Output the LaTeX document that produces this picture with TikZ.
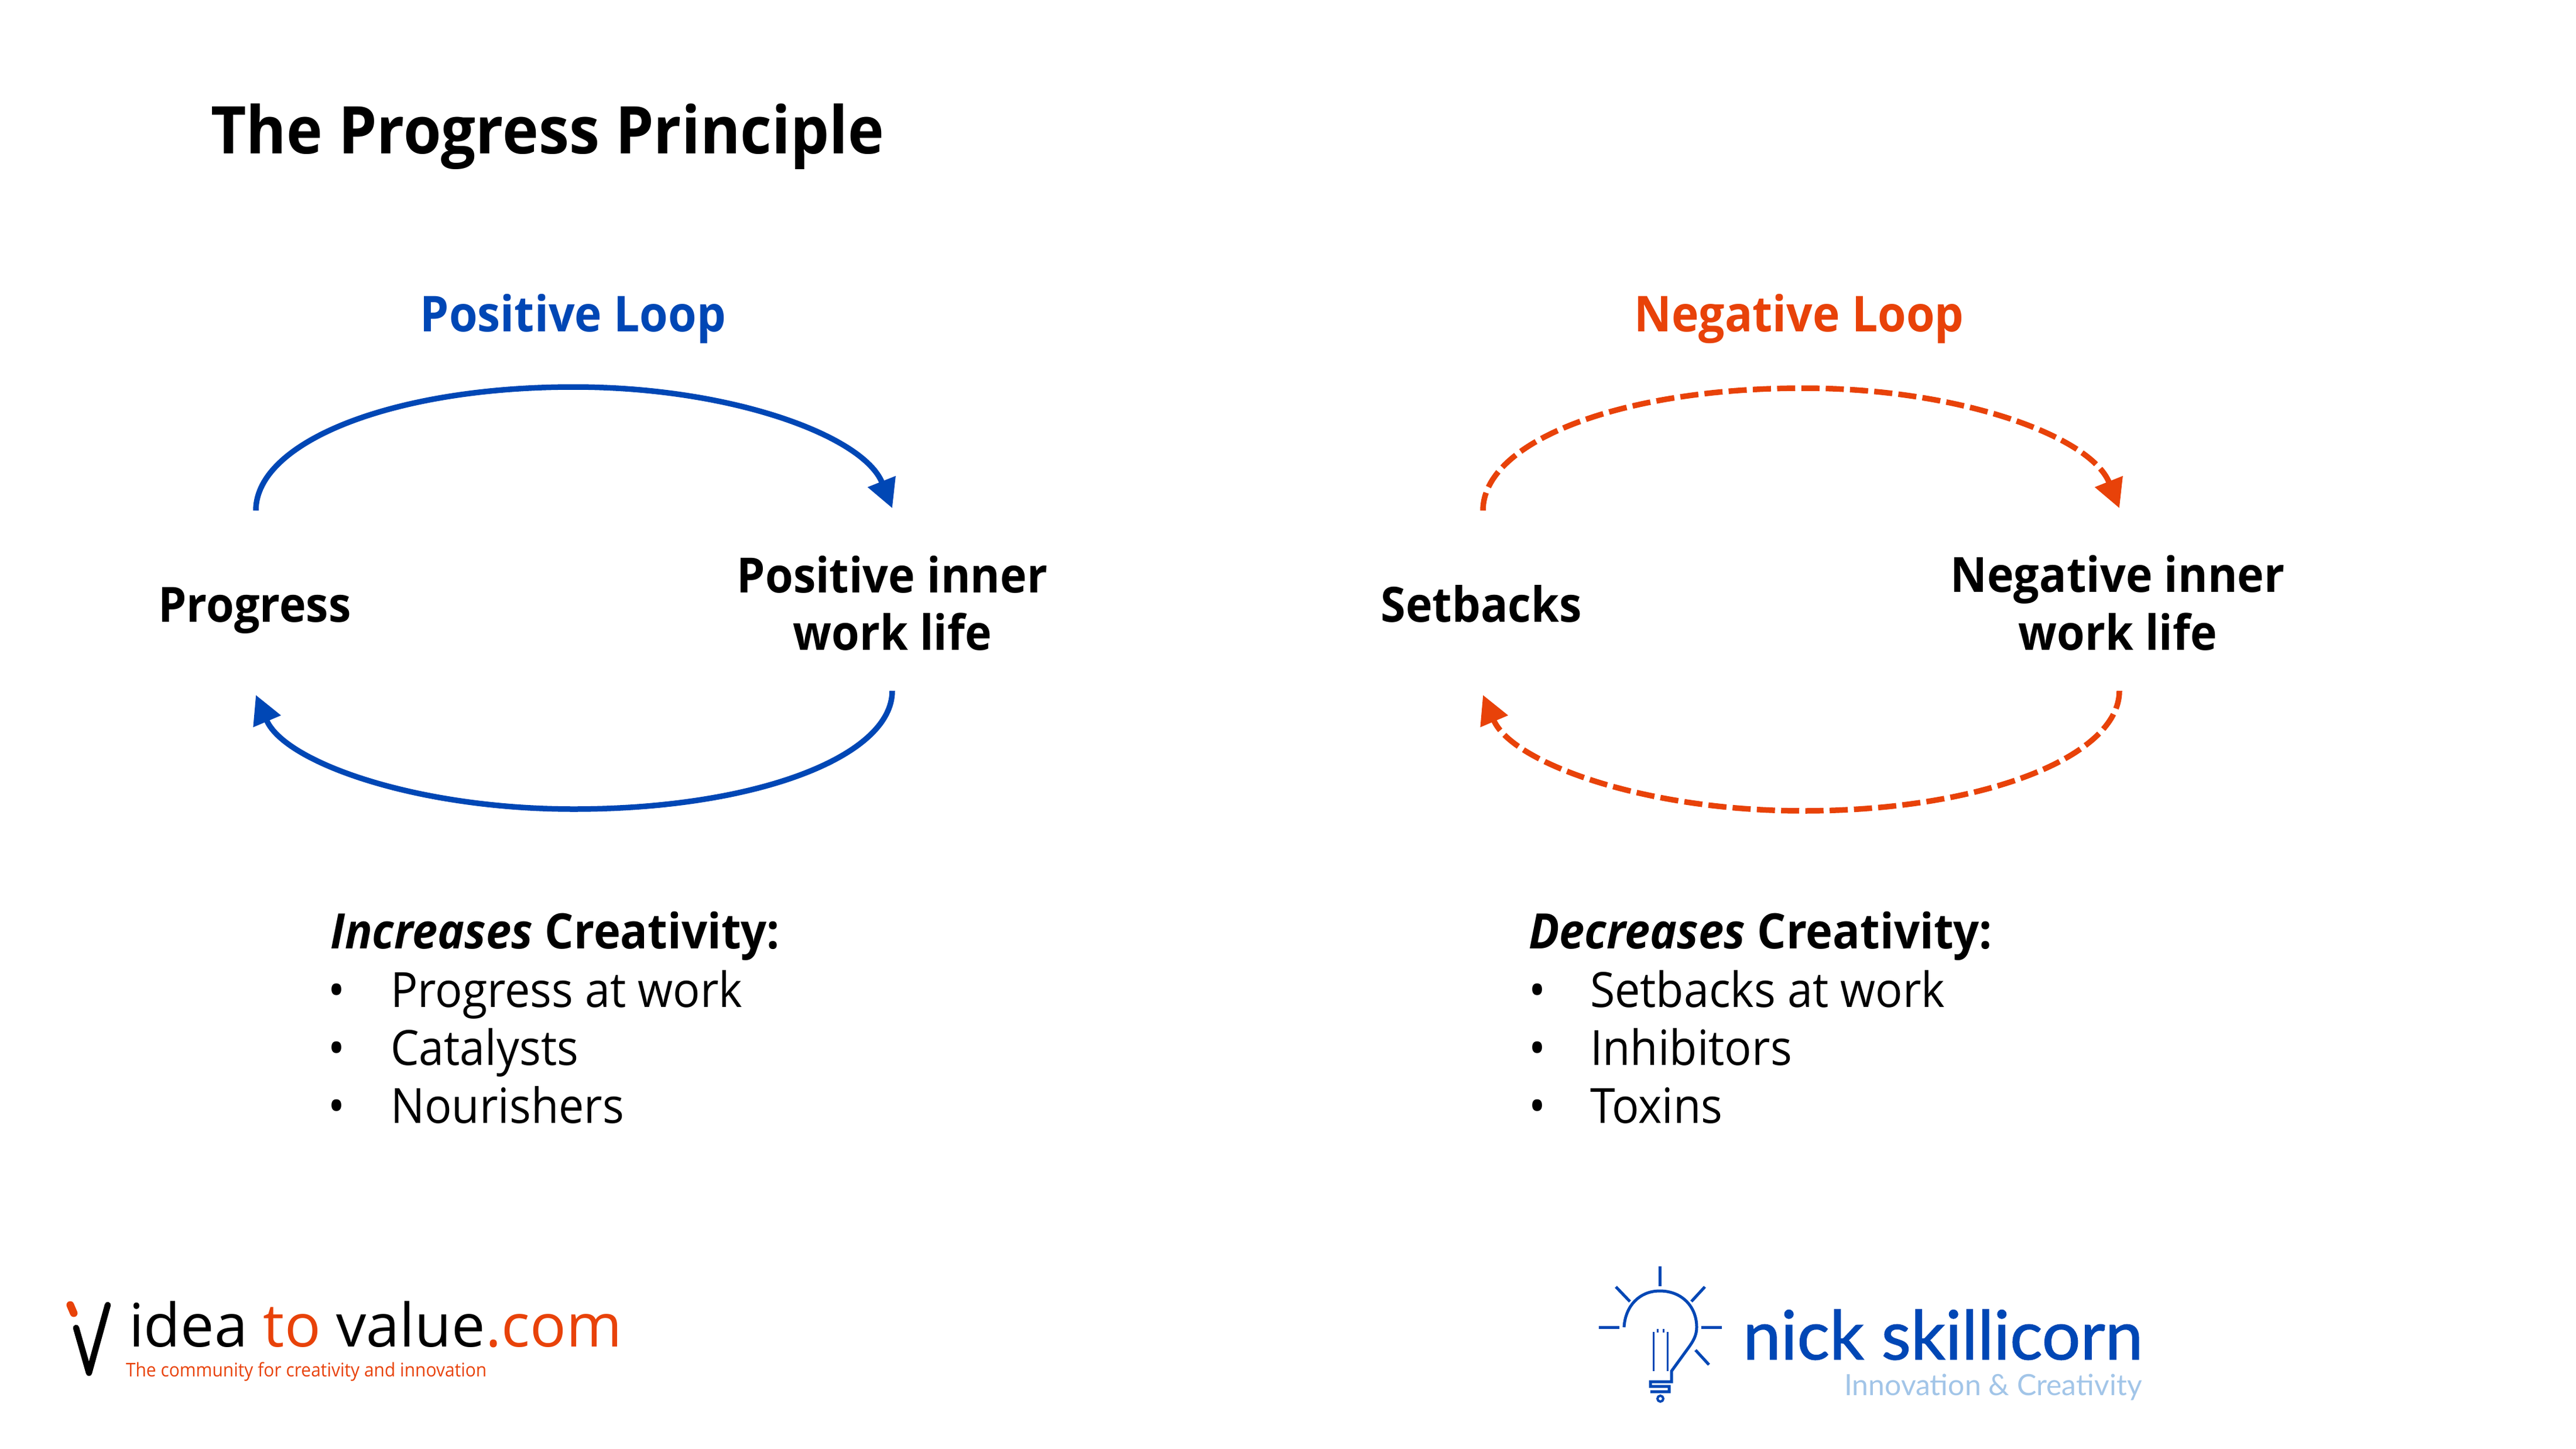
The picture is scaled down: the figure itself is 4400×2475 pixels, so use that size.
\documentclass[tikz,border=0pt]{standalone}
\usepackage{fontspec}
\usetikzlibrary{arrows.meta}
\setmainfont{Open Sans}[FakeStretch=0.93]
\newfontfamily\wordmark{Open Sans}
\newfontfamily\logofont[FakeBold=1.2]{Lato}
\newfontfamily\logolight{Lato}
\definecolor{loopblue}{HTML}{0047B5}
\definecolor{looporange}{HTML}{E84209}
\definecolor{lightblue}{HTML}{A2C5E8}
\newcommand{\fsz}[1]{\fontsize{#1}{#1}\selectfont}
\tikzset{
  x=1pt,y=-1pt,
  txt/.style={inner sep=0pt,outer sep=0pt,anchor=base west},
  titletxt/.style={txt,font=\fsz{112.4}\bfseries},
  looplabel/.style={txt,anchor=base,font=\fsz{84.5}\bfseries},
  stagelabel/.style={inner sep=0pt,anchor=base,font=\fsz{83}\bfseries},
  stagelabeltwo/.style={inner sep=0pt,align=center,font=\fsz{83}\bfseries},
  listhead/.style={txt,font=\fsz{83.5}\bfseries},
  listitem/.style={txt,font=\fsz{83}},
  bulletmark/.style={txt,font=\fsz{83}},
  arc/.style={line width=9.5pt,-{Triangle[length=49pt,width=49pt]}},
  posarc/.style={arc,draw=loopblue},
  negarc/.style={arc,draw=looporange,dash pattern=on 31pt off 10.5pt},
  bulbline/.style={draw=loopblue,line width=5pt,line join=miter},
}
\begin{document}
\begin{tikzpicture}
\useasboundingbox (0,0) rectangle (4400,2475);
\node[titletxt] (title) at (360,262) {The Progress Principle};
\node[looplabel,text=loopblue] (poshead) at (979,566) {Positive Loop};
\node[looplabel,text=looporange] (neghead) at (3073,566) {Negative Loop};

\node[stagelabel] (prog) at (435,1062) {Progress};
\node[stagelabeltwo] (posl) at (1524,1030) {Positive inner\\[15pt]work life};
\node[stagelabel] (setb) at (2530,1062) {Setbacks};
\node[stagelabeltwo] (negl) at (3617,1030) {Negative inner\\[15pt]work life};

\coordinate (p1) at (437,872); \coordinate (p2) at (980,661); \coordinate (p3) at (1524,868);
\coordinate (p4) at (1524,1180); \coordinate (p5) at (980,1382); \coordinate (p6) at (437,1187);
\draw[posarc] (p1) .. controls (437,755) and (670,661) .. (p2) .. controls (1250,661) and (1475,745) .. (p3);
\draw[posarc] (p4) .. controls (1524,1292) and (1291,1382) .. (p5) .. controls (711,1382) and (486,1302) .. (p6);

\coordinate (n1) at (2533,872); \coordinate (n2) at (3080,663); \coordinate (n3) at (3620,868);
\coordinate (n4) at (3620,1180); \coordinate (n5) at (3080,1385); \coordinate (n6) at (2533,1187);
\draw[negarc] (n1) .. controls (2533,755) and (2766,663) .. (n2) .. controls (3346,663) and (3571,745) .. (n3);
\draw[negarc] (n4) .. controls (3620,1292) and (3387,1385) .. (n5) .. controls (2807,1385) and (2582,1302) .. (n6);

\node[listhead] (h1) at (564,1620) {\textit{Increases} Creativity:};
\node[bulletmark] (b11) at (560,1720) {•}; \node[listitem] (t11) at (667,1720) {Progress at work};
\node[bulletmark] (b12) at (560,1819) {•}; \node[listitem] (t12) at (667,1819) {Catalysts};
\node[bulletmark] (b13) at (560,1918) {•}; \node[listitem] (t13) at (667,1918) {Nourishers};

\node[listhead] (h2) at (2611,1620) {\textit{Decreases} Creativity:};
\node[bulletmark] (b21) at (2611,1720) {•}; \node[listitem] (t21) at (2716,1720) {Setbacks at work};
\node[bulletmark] (b22) at (2611,1819) {•}; \node[listitem] (t22) at (2716,1819) {Inhibitors};
\node[bulletmark] (b23) at (2611,1918) {•}; \node[listitem] (t23) at (2716,1918) {Toxins};

% idea to value logo
\draw[looporange,line width=13pt,line cap=round] (120,2229) -- (126,2243);
\draw[black,line width=10.5pt,line cap=round,line join=round] (130,2268) -- (152,2345) -- (184,2229);
\node[txt,font={\wordmark\fsz{102.5}}] (itv) at (220,2300) {idea \textcolor{looporange}{to} value\textcolor{looporange}{.com}};
\node[txt,font=\fsz{32.2},text=looporange] (itvsub) at (215,2351) {The community for creativity and innovation};

% bulb logo
\draw[bulbline] (2835,2163) -- (2835,2197);
\draw[bulbline] (2760,2198) -- (2784,2223);
\draw[bulbline] (2912,2198) -- (2889,2223);
\draw[bulbline] (2731,2267) -- (2766,2267);
\draw[bulbline] (2906,2267) -- (2941,2267);
\draw[bulbline] (2896,2306) -- (2919,2331);
\draw[bulbline] (2774,2267) .. controls (2776,2231) and (2800,2205) .. (2835,2205) .. controls (2872,2205) and (2898,2231) .. (2898,2267) .. controls (2898,2281) and (2892,2291) .. (2884,2302) -- (2855,2342) -- (2855,2360) -- (2819,2360) -- (2819,2368) -- (2851,2368) -- (2851,2377) -- (2819,2377);
\draw[bulbline,line width=3pt] (2824,2275) -- (2824,2342);
\draw[bulbline,line width=3pt] (2848,2275) -- (2848,2342);
\draw[bulbline,line width=3pt] (2831,2270) -- (2831,2276);
\draw[bulbline,line width=3pt] (2841,2270) -- (2841,2276);
\draw[bulbline,line width=4pt] (2836,2389) circle (5);
\node[txt,font={\logofont\fsz{116}},text=loopblue] (nick) at (2977,2322) {nick skillicorn};
\node[txt,font={\logolight\fsz{50}},text=lightblue] (innov) at (3150,2383) {Innovation \& Creativity};
\end{tikzpicture}
\end{document}
